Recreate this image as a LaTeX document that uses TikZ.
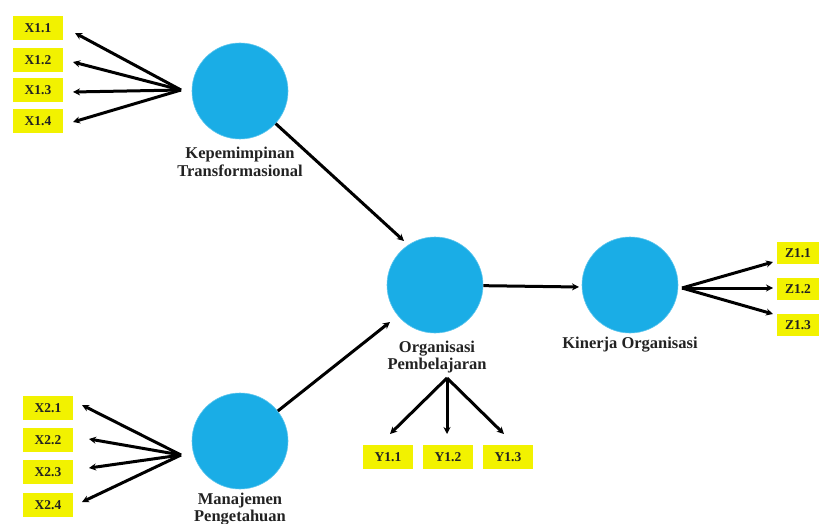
\documentclass[tikz,border=0pt]{standalone}
\usepackage{fontspec}
\setmainfont{Liberation Serif}
\usetikzlibrary{arrows.meta}
\definecolor{circblue}{HTML}{1AADE6}
\definecolor{boxyellow}{HTML}{F2F200}
\definecolor{txt}{HTML}{222222}
\tikzset{
  latent/.style={circle, fill=circblue, draw=circblue!70!white, line width=0.6pt, minimum size=96pt, inner sep=0pt},
  indic/.style={fill=boxyellow, minimum width=50pt, minimum height=24pt, inner sep=0pt, font=\fontsize{13.5}{14}\selectfont\bfseries, text=txt},
  zind/.style={indic, minimum width=42pt, minimum height=22pt},
  lbl/.style={font=\fontsize{16.5}{17.5}\selectfont\bfseries, text=txt, align=center, inner sep=0pt},
  arr/.style={line width=3pt, draw=black, -{Stealth[length=7pt,width=7pt]}},
}
\begin{document}
\begin{tikzpicture}[x=1pt,y=-1pt]
\useasboundingbox (0,0) rectangle (819,524);
% latent variables
\node[latent] (kt) at (240,91) {};
\node[latent] (mp) at (240,441) {};
\node[latent] (op) at (435,285) {};
\node[latent] (ko) at (630,285) {};
% labels
\node[lbl] (ktl) at (240,162) {Kepemimpinan\\Transformasional};
\node[lbl] (opl) at (437,357) {Organisasi\\Pembelajaran};
\node[lbl] (kol) at (630,345) {Kinerja Organisasi};
\node[lbl] (mpl) at (240,509) {Manajemen\\Pengetahuan};
% indicator boxes
\node[indic] (x11) at (38,28) {X1.1};
\node[indic] (x12) at (38,60) {X1.2};
\node[indic] (x13) at (38,90) {X1.3};
\node[indic] (x14) at (38,121) {X1.4};
\node[indic] (x21) at (48,408) {X2.1};
\node[indic] (x22) at (48,440) {X2.2};
\node[indic] (x23) at (48,472) {X2.3};
\node[indic] (x24) at (48,505) {X2.4};
\node[indic] (y11) at (388,457) {Y1.1};
\node[indic] (y12) at (448,457) {Y1.2};
\node[indic] (y13) at (508,457) {Y1.3};
\node[zind] (z11) at (798,253) {Z1.1};
\node[zind] (z12) at (798,289) {Z1.2};
\node[zind] (z13) at (798,325) {Z1.3};
% fan origins
\coordinate (kto) at (181,90);
\coordinate (mpo) at (181,455);
\coordinate (opo) at (447,378);
\coordinate (koo) at (682,288);
% arrow tips
\coordinate (tx11) at (75,33);
\coordinate (tx12) at (73,62);
\coordinate (tx13) at (73,92);
\coordinate (tx14) at (73,122);
\coordinate (tx21) at (82,405);
\coordinate (tx22) at (89,439);
\coordinate (tx23) at (89,468);
\coordinate (tx24) at (82,502);
\coordinate (ty11) at (390,434);
\coordinate (ty12) at (447,434);
\coordinate (ty13) at (504,434);
\coordinate (tz11) at (773,262);
\coordinate (tz12) at (773,288);
\coordinate (tz13) at (773,314);
\coordinate (tkt) at (404,241);
\coordinate (tmp) at (390,322);
\coordinate (tko) at (579,287);
% indicator arrows
\foreach \t in {tx11,tx12,tx13,tx14} \draw[arr] (kto) -- (\t);
\foreach \t in {tx21,tx22,tx23,tx24} \draw[arr] (mpo) -- (\t);
\foreach \t in {ty11,ty12,ty13} \draw[arr] (opo) -- (\t);
\foreach \t in {tz11,tz12,tz13} \draw[arr] (koo) -- (\t);
% structural paths
\draw[arr] (kt) -- (tkt);
\draw[arr] (mp) -- (tmp);
\draw[arr] (op) -- (tko);
\end{tikzpicture}
\end{document}
